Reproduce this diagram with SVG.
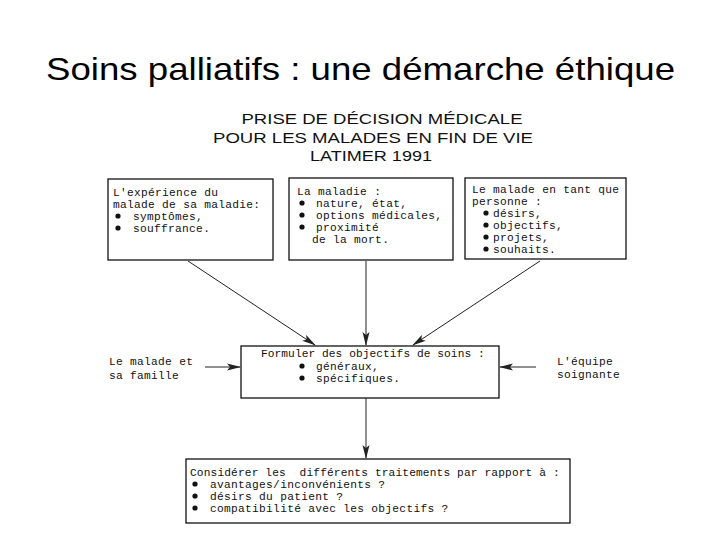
<svg xmlns="http://www.w3.org/2000/svg" width="720" height="540" viewBox="0 0 720 540">
<defs>
<style>
.title{font-family:"Liberation Sans","Open Sans",sans-serif;font-size:32px;fill:#000}
.head{font-family:"Liberation Sans","DejaVu Sans",sans-serif;font-size:15px;fill:#111;text-anchor:middle}
.t{font-family:"Liberation Mono","DejaVu Sans Mono",monospace;font-size:11.2px;letter-spacing:0.3px;fill:#111}
.box{fill:#fff;stroke:#111;stroke-width:1.3}
.line{stroke:#222;stroke-width:1;fill:none}
.dot{fill:#111}
</style>
<marker id="ah" viewBox="0 0 14 8" refX="13" refY="4" markerWidth="14" markerHeight="8" markerUnits="userSpaceOnUse" orient="auto">
<path d="M0,0.5 L14,4 L0,7.5 L3,4 Z" fill="#222"/>
</marker>
</defs>
<rect width="720" height="540" fill="#fff"/>
<text class="title" x="46" y="80" textLength="629" lengthAdjust="spacingAndGlyphs">Soins palliatifs : une démarche éthique</text>
<g id="header">
<text class="head" x="382" y="124" textLength="281" lengthAdjust="spacingAndGlyphs">PRISE DE DÉCISION MÉDICALE</text>
<text class="head" x="373" y="143" textLength="320" lengthAdjust="spacingAndGlyphs">POUR LES MALADES EN FIN DE VIE</text>
<text class="head" x="371" y="161" textLength="122" lengthAdjust="spacingAndGlyphs">LATIMER 1991</text>
</g>
<g id="connectors">
<line class="line" x1="188" y1="261" x2="315" y2="345" marker-end="url(#ah)"/>
<line class="line" x1="366" y1="261" x2="366" y2="345" marker-end="url(#ah)"/>
<line class="line" x1="540" y1="261" x2="413" y2="345" marker-end="url(#ah)"/>
<line class="line" x1="205" y1="367" x2="240" y2="367" marker-end="url(#ah)"/>
<line class="line" x1="536" y1="367" x2="500" y2="367" marker-end="url(#ah)"/>
<line class="line" x1="366" y1="398" x2="366" y2="458" marker-end="url(#ah)"/>
</g>
<g id="box-experience">
<rect class="box" x="108" y="179" width="165" height="81"/>
<text class="t" x="113" y="196">L'expérience du</text>
<text class="t" x="113" y="208">malade de sa maladie:</text>
<circle class="dot" cx="118" cy="216" r="2.6"/>
<text class="t" x="133" y="220">symptômes,</text>
<circle class="dot" cx="118" cy="228" r="2.6"/>
<text class="t" x="133" y="232">souffrance.</text>
</g>
<g id="box-maladie">
<rect class="box" x="289" y="178" width="164" height="82"/>
<text class="t" x="297" y="195">La maladie :</text>
<circle class="dot" cx="302" cy="203" r="2.6"/>
<text class="t" x="316" y="207">nature, état,</text>
<circle class="dot" cx="302" cy="215" r="2.6"/>
<text class="t" x="316" y="219">options médicales,</text>
<circle class="dot" cx="302" cy="227" r="2.6"/>
<text class="t" x="316" y="231">proximité</text>
<text class="t" x="312" y="243">de la mort.</text>
</g>
<g id="box-personne">
<rect class="box" x="465" y="178" width="161" height="81"/>
<text class="t" x="472" y="193">Le malade en tant que</text>
<text class="t" x="472" y="205">personne :</text>
<circle class="dot" cx="486" cy="213" r="2.6"/>
<text class="t" x="493" y="217">désirs,</text>
<circle class="dot" cx="486" cy="225" r="2.6"/>
<text class="t" x="493" y="229">objectifs,</text>
<circle class="dot" cx="486" cy="237" r="2.6"/>
<text class="t" x="493" y="241">projets,</text>
<circle class="dot" cx="486" cy="249" r="2.6"/>
<text class="t" x="493" y="253">souhaits.</text>
</g>
<g id="famille">
<text class="t" x="109" y="365">Le malade et</text>
<text class="t" x="109" y="379">sa famille</text>
</g>
<g id="equipe">
<text class="t" x="557" y="365">L'équipe</text>
<text class="t" x="557" y="378">soignante</text>
</g>
<g id="box-objectifs">
<rect class="box" x="241" y="346" width="258" height="52"/>
<text class="t" x="261" y="357" textLength="224">Formuler des objectifs de soins :</text>
<circle class="dot" cx="302" cy="366" r="2.6"/>
<text class="t" x="316" y="370">généraux,</text>
<circle class="dot" cx="302" cy="378" r="2.6"/>
<text class="t" x="316" y="382">spécifiques.</text>
</g>
<g id="box-traitements">
<rect class="box" x="186" y="459" width="384" height="64"/>
<text class="t" x="190" y="476" textLength="370" xml:space="preserve">Considérer les  différents traitements par rapport à :</text>
<circle class="dot" cx="195" cy="484" r="2.6"/>
<text class="t" x="210" y="488">avantages/inconvénients ?</text>
<circle class="dot" cx="195" cy="496" r="2.6"/>
<text class="t" x="210" y="500">désirs du patient ?</text>
<circle class="dot" cx="195" cy="508" r="2.6"/>
<text class="t" x="210" y="512">compatibilité avec les objectifs ?</text>
</g>
</svg>
